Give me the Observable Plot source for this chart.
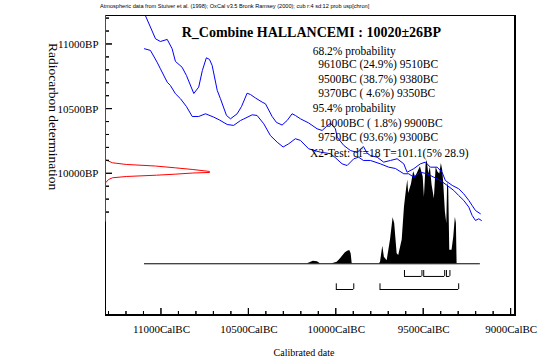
<!DOCTYPE html>
<html><head><meta charset="utf-8">
<script src="https://cdn.jsdelivr.net/npm/d3@7"></script>
<script src="https://cdn.jsdelivr.net/npm/@observablehq/plot@0.6"></script>
<style>
body{margin:0;background:#fff}
#chart svg text{font-family:"Liberation Serif","Times New Roman",serif;fill:#000}
</style></head><body><div id="chart"></div><script>
// ---------- data ----------
const xMajor = [11000, 10500, 10000, 9500, 9000];
const xMinor = [11300, 11200, 11100, 10900, 10800, 10700, 10600, 10400, 10300, 10200, 10100, 9900, 9800, 9700, 9600, 9400, 9300, 9200, 9100];
const yMajor = [11000, 10500, 10000];
const yMinor = [11200, 11100, 10900, 10800, 10700, 10600, 10400, 10300, 10200, 10100, 9900, 9800, 9700];

// calibration curve (upper / lower 1-sigma)
const upperBC = [11092,11034,11006,10967,10939,10920,10882,10857,10815,10787,10766,10743,10725,10710,10681,10663,10628,10605,10567,10542,10510,10491,10462,10424,10405,10367,10342,10310,10281,10253,10234,10205,10158,10110,10081,10056,10033,10005,9995,9957,9919,9881,9845,9822,9805,9766,9729,9690,9652,9614,9595,9557,9519,9490,9462,9423,9395,9376,9337,9300,9271,9242,9223,9204,9176];
const upperBP = [11224,11044,11023,11039,10967,10869,10824,10760,10621,10670,10799,10897,10884,10838,10645,10582,10451,10425,10464,10520,10623,10613,10586,10554,10541,10443,10397,10377,10412,10464,10451,10425,10393,10348,10335,10366,10391,10348,10283,10219,10180,10165,10211,10157,10142,10128,10090,10103,10116,10077,10012,10039,10077,10090,10051,10051,10012,9948,9910,9884,9845,9794,9755,9716,9691];
const lowerBC = [11097,11063,11025,11006,10967,10949,10920,10891,10857,10824,10787,10748,10701,10668,10624,10587,10548,10529,10481,10453,10415,10377,10338,10304,10272,10234,10205,10158,10091,10033,10005,9967,9938,9900,9872,9845,9805,9748,9700,9662,9614,9586,9557,9519,9481,9443,9404,9366,9328,9300,9271,9242,9223,9204,9185,9170];
const lowerBP = [10967,10954,10863,10812,10708,10683,10619,10580,10520,10443,10443,10464,10438,10416,10381,10374,10412,10424,10456,10451,10387,10296,10244,10207,10232,10271,10258,10193,10167,10155,10124,10077,10064,10116,10128,10103,10103,10077,10051,10041,10000,10000,9974,10012,10000,9974,9948,9910,9871,9832,9794,9742,9678,9639,9652,9639];

// radiocarbon date distribution 10020±26 BP (relative density)
const redBP = [10108,10085,10072,10060,10046,10033,10018,10010,10006,9997,9989,9979,9969,9956,9930];
const redP  = [0,0.067,0.2,0.48,0.67,0.84,1,1,0.84,0.67,0.49,0.2,0.067,0.03,0];
const redAxisFrom = 9626, redAxisTo = 11224;

// calibrated probability distribution (relative)
const histBC = [10165,10148,10131,10108,10091, 10024,9995,9976,9961,9948,9935,9923,9915,9909,
  9753,9747,9734,9725,9709,9690,9675,9666,9652,9643,9623,9610,9599,9591,9586,9570,9560,9557,9547,9538,9519,9503,9496,9486,9480,9471,9462,9452,9439,9429,9418,9408,9399,9391,9386,9376,9368,9363,9357,9351,9338,9328,9319,9313,9309];
const histP = [0,.013,.025,.019,0, 0,.015,.048,.08,.106,.122,.129,.097,0,
  0,.015,.17,.064,.03,.23,.445,.39,.097,.08,.23,.55,.71,.81,.68,.77,.87,.89,.84,.87,.94,.84,.645,.97,1,.87,.935,.76,.63,.935,.885,.87,.97,.9,.79,.5,.39,.79,.73,.13,.13,.26,.45,.39,0];
const rangeFrom = 11097, rangeTo = 9176;

// probability ranges
const r68From = [9610, 9500, 9370], r68To = [9510, 9380, 9350];
const r95From = [10000, 9750], r95To = [9900, 9300];

const header = "Atmospheric data from Stuiver et al. (1998); OxCal v3.5 Bronk Ramsey (2000); cub r:4 sd:12 prob usp[chron]";
const title = "R_Combine HALLANCEMI : 10020\u00B126BP";
const lines = ["68.2% probability","9610BC (24.9%) 9510BC","9500BC (38.7%) 9380BC","9370BC ( 4.6%) 9350BC",
  "95.4% probability","10000BC ( 1.8%) 9900BC","9750BC (93.6%) 9300BC","X2-Test: df=18 T=101.1(5% 28.9)"];

// ---------- layout ----------
const xDomain = [11320, 8975], yDomain = [8904, 11224];
const innerW = 410, innerH = 300;
const pxX = (xDomain[0] - xDomain[1]) / innerW;  // years per pixel
const pxY = (yDomain[1] - yDomain[0]) / innerH;  // BP per pixel
const histBase = 9304, histUnit = 799;     // histogram baseline / unit height (BP space)
const redUnit = 595;                        // width of unit density (calBC space)
const row68 = [9252, 9206], row95 = [9149, 9105]; // bracket rows (BP space)
const xTickLen = {major: 7 * pxY, minor: 4 * pxY};
const yTickLen = {major: 7 * pxX, minor: 4 * pxX};

const upper = upperBC.map((bc, i) => ({bc, bp: upperBP[i]}));
const lower = lowerBC.map((bc, i) => ({bc, bp: lowerBP[i]}));
const red = redBP.map((bp, i) => ({bp, x: xDomain[0] - redP[i] * redUnit}));
const hist = histBC.map((bc, i) => ({bc, y: histBase + histP[i] * histUnit}));
const r68 = r68From.map((f, i) => ({from: f, to: r68To[i]}));
const r95 = r95From.map((f, i) => ({from: f, to: r95To[i]}));
const ln = {stroke: "black", strokeWidth: 1};

// frame edges and ticks as thin filled rectangles
const edges = [
  {x1: xDomain[0], x2: xDomain[1], y1: yDomain[0], y2: yDomain[0] + pxY},
  {x1: xDomain[0], x2: xDomain[1], y1: yDomain[1] - pxY, y2: yDomain[1]},
  {x1: xDomain[0], x2: xDomain[0] - pxX, y1: yDomain[0], y2: yDomain[1]},
  {x1: xDomain[1] + pxX, x2: xDomain[1], y1: yDomain[0], y2: yDomain[1]}
];
const xTicks = [...xMajor.map(v => ({v, len: xTickLen.major})), ...xMinor.map(v => ({v, len: xTickLen.minor}))];
const yTicks = [...yMajor.map(v => ({v, len: yTickLen.major})), ...yMinor.map(v => ({v, len: yTickLen.minor}))];

const main = Plot.plot({
  width: 542, height: 362, marginLeft: 105, marginRight: 27, marginTop: 15, marginBottom: 47,
  x: {domain: xDomain, axis: null},
  y: {domain: yDomain, axis: null},
  marks: [
    Plot.areaY(hist, {x: "bc", y1: histBase, y2: "y", fill: "black", curve: "linear"}),
    Plot.ruleY([histBase], {y: d => d, x1: rangeFrom, x2: rangeTo, ...ln}),
    Plot.ruleY(r68, {x1: "from", x2: "to", y: row68[1], ...ln}),
    Plot.ruleX(r68.flatMap(d => [d.from, d.to]), {x: d => d, y1: row68[0], y2: row68[1], ...ln}),
    Plot.ruleY(r95, {x1: "from", x2: "to", y: row95[1], ...ln}),
    Plot.ruleX(r95.flatMap(d => [d.from, d.to]), {x: d => d, y1: row95[0], y2: row95[1], ...ln}),
    Plot.frame({stroke: "black"}),
    Plot.rect(edges, {x1: "x1", x2: "x2", y1: "y1", y2: "y2", fill: "black"}),
    Plot.rect(xTicks, {x1: d => d.v + pxX / 2, x2: d => d.v - pxX / 2, y1: yDomain[0], y2: d => yDomain[0] + d.len, fill: "black"}),
    Plot.rect(yTicks, {y1: d => d.v - pxY / 2, y2: d => d.v + pxY / 2, x1: xDomain[0], x2: d => xDomain[0] - d.len, fill: "black"}),
    Plot.text(xMajor, {x: d => d, y: yDomain[0], dy: 14, text: d => d + "CalBC", fontSize: 11, textAnchor: "middle"}),
    Plot.text(yMajor, {x: xDomain[0], y: d => d, dx: -7, text: d => d + "BP", fontSize: 11, textAnchor: "end"}),
    Plot.line(upper, {x: "bc", y: "bp", stroke: "#0000ff", strokeWidth: 1}),
    Plot.line(lower, {x: "bc", y: "bp", stroke: "#0000ff", strokeWidth: 1}),
    Plot.rect([{y1: redAxisFrom, y2: redAxisTo}], {x1: xDomain[0], x2: xDomain[0] - pxX, y1: "y1", y2: "y2", fill: "#ff0000"}),
    Plot.line(red, {x: "x", y: "bp", stroke: "#ff0000", strokeWidth: 1, curve: "linear"})
  ]
});
document.getElementById("chart").appendChild(main);

const svg = d3.select(main);
const sx = main.scale("x"), sy = main.scale("y");

// backup frame and ticks drawn with the plot's own scales
const g = svg.append("g").attr("stroke", "#000").attr("stroke-width", 1).attr("style", "stroke:#000;stroke-width:1px");
const X0 = sx.apply(xDomain[0]), X1 = sx.apply(xDomain[1]), Y0 = sy.apply(yDomain[0]), Y1 = sy.apply(yDomain[1]);
[[X0 + 0.5, Y1, X0 + 0.5, Y0], [X1 - 0.5, Y1, X1 - 0.5, Y0], [X0, Y1 + 0.5, X1, Y1 + 0.5], [X0, Y0 - 0.5, X1, Y0 - 0.5]]
  .forEach(([a, b, c, d]) => g.append("line").attr("x1", a).attr("y1", b).attr("x2", c).attr("y2", d));
xTicks.forEach(t => { const x = sx.apply(t.v); g.append("line").attr("x1", x).attr("x2", x).attr("y1", Y0).attr("y2", sy.apply(yDomain[0] + t.len)); });
yTicks.forEach(t => { const y = sy.apply(t.v); g.append("line").attr("y1", y).attr("y2", y).attr("x1", X0).attr("x2", sx.apply(xDomain[0] - t.len)); });
svg.append("line").attr("x1", X0 + 0.5).attr("x2", X0 + 0.5).attr("y1", sy.apply(redAxisFrom)).attr("y2", sy.apply(redAxisTo))
  .attr("stroke", "#ff0000").attr("style", "stroke:#ff0000;stroke-width:1px");

// text annotations
function addText(x, y, str, size, extra = "") {
  return svg.append("text").attr("x", x).attr("y", y).attr("text-anchor", "start")
    .attr("style", `font-size:${size}px;${extra}`).text(str);
}
addText(100, 8, header, 5.6, "font-family:'Liberation Sans',Arial,sans-serif");
addText(181.7, 36.7, title, 14, "font-weight:bold");
const lx = [312.7, 318.3, 318.3, 318.3, 312.7, 320, 318.3, 310];
const ly = [54.5, 68, 82.8, 97, 112, 126.5, 140.5, 156.5];
lines.forEach((t, i) => addText(lx[i], ly[i], t, 11.5));
addText(304, 355.5, "Calibrated date", 10).attr("text-anchor", "middle");
svg.append("text").attr("transform", "translate(49,43) rotate(90)").attr("text-anchor", "start")
  .attr("style", "font-size:13.5px").text("Radiocarbon determination");
</script></body></html>
